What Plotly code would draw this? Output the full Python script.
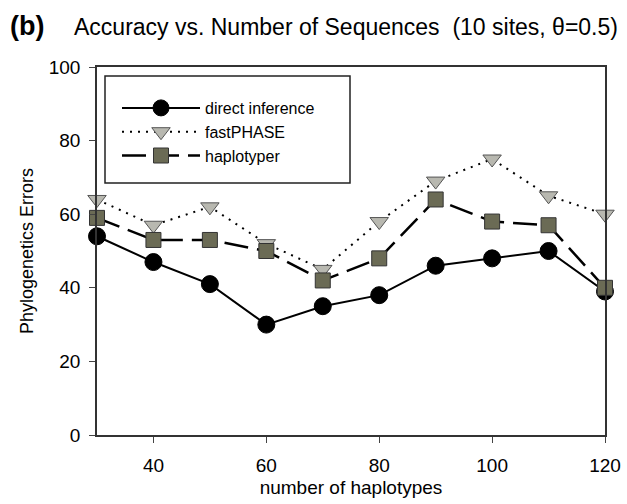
import plotly.graph_objects as go

haplotypes = [30, 40, 50, 60, 70, 80, 90, 100, 110, 120]
direct_inference = [54, 47, 41, 30, 35, 38, 46, 48, 50, 39]
fastphase = [64, 57, 62, 52, 45, 58, 69, 75, 65, 60]
haplotyper = [59, 53, 53, 50, 42, 48, 64, 58, 57, 40]
x_ticks = [40, 60, 80, 100, 120]
y_ticks = [0, 20, 40, 60, 80, 100]

FONT = "Liberation Sans, Arial, sans-serif"
W, H = 627, 504
L, R, T, B = 97, 22, 67, 69
PW, PH = W - L - R, H - T - B


def px_x(p):
    return (p - L) / PW


def px_y(p):
    return (H - B - p) / PH


fig = go.Figure()
fig.add_trace(go.Scatter(
    x=haplotypes, y=direct_inference, name="direct inference", mode="lines+markers",
    legendgroup="a",
    line=dict(color="black", width=2),
    marker=dict(symbol="circle", size=17, color="black", line=dict(color="black", width=1)),
    cliponaxis=False))
fig.add_trace(go.Scatter(
    x=haplotypes, y=fastphase, name="fastPHASE", mode="lines+markers",
    legendgroup="b",
    line=dict(color="black", width=2, dash="2px,6px"),
    marker=dict(symbol="triangle-down", size=16, color="#b8b8b0", line=dict(color="#555555", width=1)),
    cliponaxis=False))
fig.add_trace(go.Scatter(
    x=haplotypes, y=haplotyper, name="haplotyper", mode="lines+markers",
    legendgroup="c",
    line=dict(color="black", width=2.5, dash="24px,9px"),
    marker=dict(symbol="square", size=15, color="#6b6b55", line=dict(color="#333333", width=1)),
    cliponaxis=False))

fig.update_layout(
    width=W, height=H,
    margin=dict(l=L, r=R, t=T, b=B, autoexpand=False),
    paper_bgcolor="white", plot_bgcolor="white",
    font=dict(family=FONT, color="black"),
    showlegend=True,
    legend=dict(x=px_x(117), y=px_y(91), xanchor="left", yanchor="top",
                borderwidth=0, bgcolor="rgba(0,0,0,0)",
                font=dict(size=16), itemwidth=78, tracegroupgap=0,
                traceorder="grouped"),
    xaxis=dict(range=[30, 120], tickvals=x_ticks, ticks="outside", ticklen=6,
               showgrid=False, zeroline=False, showline=True, linecolor="#333333",
               linewidth=1.5, mirror=True, tickfont=dict(size=19),
               ticklabelstandoff=6, automargin=False,
               title=dict(text="number of haplotypes", font=dict(size=19), standoff=6)),
    yaxis=dict(range=[0, 100], tickvals=y_ticks, ticks="outside", ticklen=6,
               showgrid=False, zeroline=False, showline=True, linecolor="#333333",
               linewidth=1.5, mirror=True, tickfont=dict(size=19),
               ticklabelstandoff=5, automargin=False,
               title=dict(text="Phylogenetics Errors", font=dict(size=18), standoff=10)),
    shapes=[
        dict(type="rect", xref="paper", yref="paper",
             x0=px_x(105), x1=px_x(350), y0=px_y(183), y1=px_y(76),
             line=dict(color="#222222", width=1.5), fillcolor="white", layer="below"),
    ],
    annotations=[
        dict(text="<b>(b)</b>", xref="paper", yref="paper", x=px_x(8), y=px_y(26),
             xanchor="left", yanchor="middle", showarrow=False, font=dict(size=27)),
        dict(text="Accuracy vs. Number of Sequences  (10 sites, θ=0.5)", xref="paper", yref="paper",
             x=px_x(72), y=px_y(27), xanchor="left", yanchor="middle", showarrow=False,
             font=dict(size=23)),
    ],
)

fig.write_html("out.html")
